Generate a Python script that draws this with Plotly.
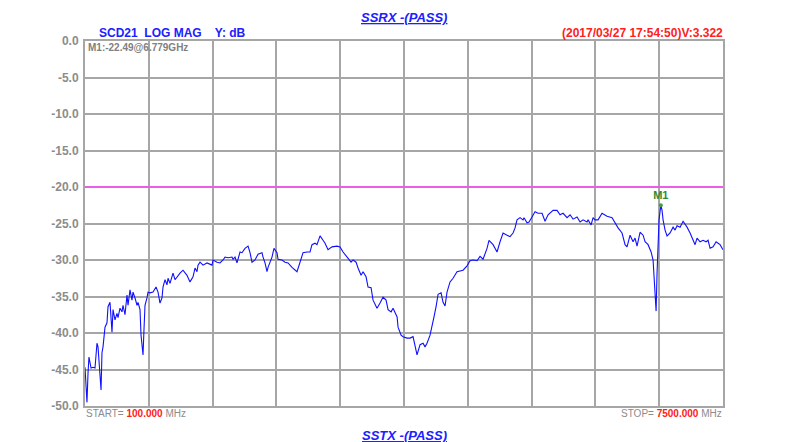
import plotly.graph_objects as go

freq_mhz = [100, 112, 123, 135, 146, 170, 193, 216, 239, 251, 274, 286, 297, 309, 332, 355, 367, 390,
            413, 425, 448, 471, 483, 506, 529, 541, 564, 587, 599, 622, 645, 657, 680, 703, 715, 738,
            750, 773, 784, 796, 819, 831, 854, 889, 924, 947, 970, 993, 1005, 1028, 1051, 1063, 1086,
            1121, 1144, 1167, 1202, 1237, 1283, 1318, 1353, 1376, 1399, 1411, 1434, 1469, 1515, 1573,
            1585, 1631, 1666, 1701, 1724, 1759, 1805, 1817, 1840, 1863, 1898, 1921, 1956, 1991, 2014,
            2037, 2072, 2107, 2153, 2165, 2188, 2211, 2223, 2269, 2292, 2327, 2339, 2385, 2420, 2455,
            2501, 2559, 2594, 2629, 2675, 2710, 2733, 2768, 2791, 2826, 2861, 2884, 2919, 2965, 3023,
            3058, 3093, 3139, 3186, 3209, 3244, 3267, 3302, 3325, 3360, 3383, 3418, 3441, 3487, 3522,
            3557, 3592, 3615, 3650, 3673, 3720, 3731, 3766, 3789, 3835, 3870, 3905, 3917, 3940, 3951,
            3986, 4021, 4044, 4067, 4102, 4125, 4148, 4172, 4195, 4230, 4253, 4276, 4299, 4334, 4369,
            4415, 4450, 4485, 4531, 4566, 4601, 4647, 4682, 4717, 4763, 4786, 4833, 4879, 4914, 4949,
            4995, 5030, 5065, 5088, 5111, 5146, 5181, 5192, 5227, 5250, 5285, 5320, 5355, 5401, 5436,
            5471, 5529, 5575, 5610, 5645, 5691, 5726, 5761, 5807, 5842, 5877, 5923, 5935, 5970, 5993,
            6016, 6051, 6097, 6155, 6213, 6248, 6283, 6329, 6364, 6387, 6422, 6457, 6480, 6503, 6538,
            6573, 6596, 6631, 6666, 6689, 6700, 6712, 6724, 6735, 6747, 6758, 6779, 6793, 6805, 6828,
            6851, 6886, 6921, 6944, 6967, 7002, 7037, 7083, 7118, 7153, 7176, 7199, 7234, 7269, 7304,
            7327, 7350, 7385, 7420, 7443, 7466, 7500]
scd21_db = [-44.7, -47.4, -49.5, -45.5, -43.3, -44.8, -44.7, -44.8, -41.4, -41.9, -45.5, -47.8, -42.7,
            -41.9, -39.2, -38.6, -36.4, -35.8, -39.9, -36.8, -38.2, -37.3, -37.9, -36.6, -37.1, -36.2,
            -37.5, -34.8, -36.2, -34.1, -35.5, -34.4, -35.2, -36.2, -35.8, -36.8, -40.3, -43.0, -39.6,
            -36.2, -35.2, -34.4, -34.5, -34.4, -33.7, -34.4, -35.9, -35.2, -33.7, -32.7, -33.4, -32.5,
            -33.2, -31.8, -32.7, -32.3, -31.8, -31.4, -32.1, -33.0, -32.3, -31.1, -31.6, -30.7, -30.3,
            -30.7, -30.4, -30.7, -30.0, -30.3, -30.4, -30.0, -29.6, -29.7, -29.6, -29.9, -29.6, -30.4,
            -28.9, -29.0, -28.4, -28.1, -29.0, -30.3, -30.0, -29.2, -29.0, -29.6, -30.4, -31.6, -31.0,
            -29.6, -28.4, -29.0, -29.9, -30.0, -30.3, -30.4, -31.0, -31.6, -30.4, -29.0, -28.9, -28.9,
            -27.9, -27.7, -27.9, -26.7, -27.3, -27.7, -28.6, -28.2, -28.1, -28.2, -28.9, -29.6, -30.3,
            -30.0, -30.3, -31.1, -32.1, -31.6, -32.3, -33.7, -33.8, -35.5, -36.6, -35.9, -35.1, -35.5,
            -36.8, -37.1, -36.6, -37.8, -39.2, -40.3, -40.5, -40.7, -40.7, -40.5, -41.2, -42.6, -43.0,
            -41.6, -41.4, -41.9, -41.4, -40.3, -39.2, -37.8, -36.4, -34.7, -34.5, -35.8, -36.3, -34.4,
            -33.0, -32.5, -31.6, -31.5, -31.4, -30.8, -30.1, -30.0, -30.1, -29.5, -29.9, -28.4, -27.3,
            -27.9, -28.9, -27.5, -26.3, -26.6, -26.8, -26.3, -25.6, -24.5, -24.2, -24.5, -24.2, -24.9,
            -24.8, -24.1, -23.4, -23.6, -23.6, -24.7, -23.8, -23.2, -23.2, -23.8, -23.6, -24.2, -23.8,
            -24.4, -24.1, -24.8, -24.5, -24.8, -24.5, -25.2, -24.2, -24.5, -24.5, -23.6, -24.0, -24.2,
            -24.9, -25.6, -26.3, -27.9, -28.2, -26.6, -27.5, -27.0, -28.1, -26.2, -26.6, -27.5, -27.9,
            -28.9, -30.0, -32.7, -35.5, -37.0, -31.8, -28.2, -24.5, -22.49, -23.2, -24.5, -25.9, -26.7,
            -26.3, -25.5, -25.9, -25.3, -25.5, -24.7, -25.5, -26.3, -27.3, -27.9, -27.0, -27.5, -27.3,
            -27.5, -27.3, -28.4, -28.2, -27.5, -27.7, -27.9, -28.6]

limit_db = -20.0
start_mhz = 100
stop_mhz = 7500
marker_freq = 6779
marker_db = -22.49
y_ticks = [0, -5, -10, -15, -20, -25, -30, -35, -40, -45, -50]
y_tick_text = ["0.0", "-5.0", "-10.0", "-15.0", "-20.0", "-25.0", "-30.0", "-35.0", "-40.0", "-45.0", "-50.0"]

FONT = "Liberation Sans, Arial, sans-serif"
GRAY = "#8c8c8c"

fig = go.Figure()
fig.add_trace(go.Scatter(x=[start_mhz, stop_mhz], y=[limit_db, limit_db], mode="lines",
                         line=dict(color="#ff44ff", width=1.5), hoverinfo="skip"))
fig.add_trace(go.Scatter(x=freq_mhz, y=scd21_db, mode="lines",
                         line=dict(color="#1010ff", width=1.1)))
fig.add_trace(go.Scatter(x=[marker_freq], y=[marker_db], mode="markers+text",
                         marker=dict(color="#40a040", size=4),
                         text=["<b>M1</b>"], textposition="top center",
                         textfont=dict(color="#2e8b2e", size=11, family=FONT)))

fig.update_xaxes(range=[start_mhz, stop_mhz], tick0=start_mhz, dtick=(stop_mhz - start_mhz) / 10,
                 showticklabels=False, ticks="", showgrid=True, gridcolor="#a6a6a6", gridwidth=1.5,
                 showline=True, linecolor="#a6a6a6", linewidth=2, mirror=True, zeroline=False)
fig.update_yaxes(range=[-50, 0], tickvals=y_ticks, ticktext=y_tick_text,
                 tickfont=dict(color=GRAY, size=12, family=FONT, weight="bold"),
                 ticks="", ticklabelstandoff=2, showgrid=True, gridcolor="#a6a6a6", gridwidth=1.5,
                 showline=True, linecolor="#a6a6a6", linewidth=2, mirror=True, zeroline=False)

anns = [
    dict(x=0.5, y=1, xref="paper", yref="paper", yshift=24, xanchor="center", yanchor="middle",
         text="<b><i><u>SSRX -(PASS)</u></i></b>", font=dict(color="#2020ff", size=13, family=FONT)),
    dict(x=0.5, y=0, xref="paper", yref="paper", yshift=-29, xanchor="center", yanchor="middle",
         text="<b><i><u>SSTX -(PASS)</u></i></b>", font=dict(color="#2020ff", size=13, family=FONT)),
    dict(x=0, y=1, xref="paper", yref="paper", xshift=12, yshift=8, xanchor="left", yanchor="middle",
         text="<b>SCD21  LOG MAG    Y: dB</b>", font=dict(color="#2020ff", size=12, family=FONT)),
    dict(x=1, y=1, xref="paper", yref="paper", xshift=2, yshift=8, xanchor="right", yanchor="middle",
         text="<b>(2017/03/27 17:54:50)V:3.322</b>", font=dict(color="#ff2020", size=12, family=FONT)),
    dict(x=0, y=1, xref="paper", yref="paper", xshift=1, yshift=-6, xanchor="left", yanchor="middle",
         text="<b>M1:-22.49@6.779GHz</b>", font=dict(color="#808080", size=10, family=FONT)),
    dict(x=0, y=0, xref="paper", yref="paper", xshift=-1, yshift=-7, xanchor="left", yanchor="middle",
         text="START= <span style='color:#ff2020'><b>100.000</b></span> MHz",
         font=dict(color="#8c8c8c", size=10, family=FONT)),
    dict(x=1, y=0, xref="paper", yref="paper", xshift=1, yshift=-7, xanchor="right", yanchor="middle",
         text="STOP= <span style='color:#ff2020'><b>7500.000</b></span> MHz",
         font=dict(color="#8c8c8c", size=10, family=FONT)),
]
for a in anns:
    a["showarrow"] = False
    fig.add_annotation(**a)

# page body adds an 8px offset; margins compensate so the plot lands at the reference position
fig.update_layout(width=790, height=442, margin=dict(l=77, r=75, t=33, b=44),
                  paper_bgcolor="white", plot_bgcolor="white", showlegend=False,
                  font=dict(family=FONT))
fig.write_html("out.html")
